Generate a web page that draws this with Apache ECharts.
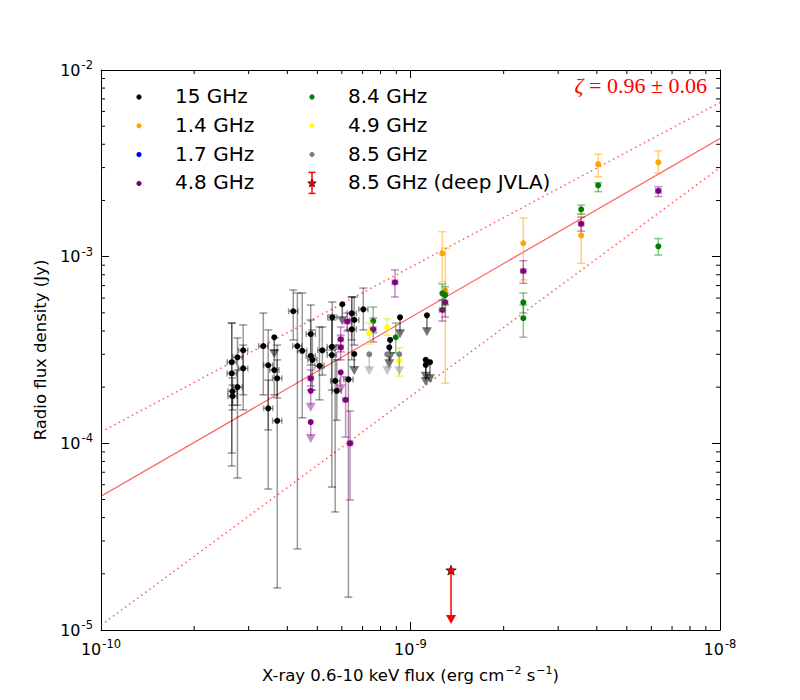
<!DOCTYPE html>
<html><head><meta charset="utf-8">
<script src="https://cdn.jsdelivr.net/npm/echarts@6/dist/echarts.min.js"></script>
<style>html,body{margin:0;padding:0;background:#fff}#c{width:800px;height:700px}</style>
</head><body><div id="c"></div>
<script>
// ---------- data ----------
// detections: [x flux, radio flux, lower error end, upper error end]
const ghz15 = [
  [2.645e-10, 2.72e-4, 8.87e-5, 4.41e-4],
  [2.645e-10, 2.37e-4, 7.56e-5, 4.41e-4],
  [2.76e-10, 2.89e-4, 6.52e-5, 3.67e-4],
  [2.88e-10, 3.15e-4, 1.51e-4, 4.31e-4],
  [2.88e-10, 2.52e-4, 1.82e-4, 3.36e-4],
  [2.76e-10, 2.00e-4, 1.60e-4, 2.47e-4],
  [2.66e-10, 1.90e-4, 1.60e-4, 2.24e-4],
  [2.66e-10, 1.79e-4, 1.51e-4, 2.05e-4],
  [3.345e-10, 3.32e-4, 1.82e-4, 4.99e-4],
  [3.47e-10, 2.62e-4, 5.69e-5, 4.05e-4],
  [3.63e-10, 2.47e-4, 1.82e-4, 3.16e-4],
  [3.71e-10, 2.23e-4, 1.75e-4, 2.80e-4],
  [3.47e-10, 1.54e-4, 1.18e-4, 2.18e-4],
  [3.71e-10, 1.32e-4, 1.68e-5, 3.36e-4],
  [4.18e-10, 5.10e-4, 3.58e-4, 6.63e-4],
  [4.31e-10, 3.32e-4, 2.72e-5, 6.39e-4],
  [4.47e-10, 3.13e-4, 1.37e-4, 6.39e-4],
  [4.76e-10, 3.85e-4, 2.63e-4, 5.51e-4],
  [4.76e-10, 2.94e-4, 1.93e-4, 4.58e-4],
  [4.82e-10, 2.80e-4, 1.93e-4, 4.05e-4],
  [5.08e-10, 2.60e-4, 1.71e-4, 4.20e-4],
  [5.19e-10, 3.15e-4, 2.32e-4, 4.20e-4],
  [5.59e-10, 4.73e-4, 3.16e-4, 5.72e-4],
  [5.57e-10, 3.29e-4, 5.83e-5, 4.87e-4],
  [5.57e-10, 2.97e-4, 1.93e-4, 4.58e-4],
  [5.71e-10, 2.16e-4, 4.29e-5, 3.36e-4],
  [5.78e-10, 1.91e-4, 1.33e-4, 2.80e-4],
  [6.46e-10, 4.97e-4, 3.58e-4, 6.08e-4],
  [6.58e-10, 4.58e-4, 3.36e-4, 6.08e-4],
  [6.46e-10, 4.08e-4, 2.80e-4, 6.08e-4],
  [6.30e-10, 2.20e-4, 1.50e-5, 4.05e-4],
  [7.04e-10, 5.22e-4, 4.05e-4, 6.79e-4]
];
// upper limits: [x flux, radio flux limit]
const ghz15UL = [
  [3.63e-10, 3.70e-4], [6.02e-10, 5.56e-4], [6.58e-10, 3.01e-4],
  [8.59e-10, 3.58e-4], [8.54e-10, 3.27e-4], [9.25e-10, 4.73e-4],
  [1.13e-9, 4.85e-4], [1.12e-9, 2.80e-4], [1.12e-9, 2.63e-4], [1.156e-9, 2.72e-4]
];
const ghz14 = [
  [1.267e-9, 1.04e-3, 7.34e-4, 1.36e-3],
  [1.296e-9, 6.57e-4, 2.10e-4, 1.11e-3],
  [2.315e-9, 1.18e-3, 7.50e-4, 1.61e-3],
  [3.56e-9, 1.30e-3, 9.21e-4, 1.69e-3],
  [4.04e-9, 3.13e-3, 2.68e-3, 3.54e-3],
  [6.32e-9, 3.20e-3, 2.80e-3, 3.69e-3]
];
const ghz17 = [];
const ghz48 = [
  [4.76e-10, 2.23e-4, 2.03e-4, 2.47e-4],
  [5.95e-10, 3.61e-4, 3.09e-4, 4.20e-4],
  [5.95e-10, 3.27e-4, 2.80e-4, 3.80e-4],
  [6.25e-10, 4.49e-4, 4.00e-4, 4.99e-4],
  [6.17e-10, 1.71e-4, 1.08e-4, 2.27e-4],
  [6.38e-10, 1.00e-4, 4.97e-5, 1.49e-4],
  [7.58e-10, 4.08e-4, 3.49e-4, 4.69e-4],
  [8.91e-10, 7.29e-4, 6.08e-4, 8.49e-4],
  [1.267e-9, 5.18e-4, 4.52e-4, 5.86e-4],
  [1.293e-9, 5.69e-4, 4.75e-4, 6.39e-4],
  [2.315e-9, 8.38e-4, 7.20e-4, 9.51e-4],
  [3.56e-9, 1.50e-3, 1.37e-3, 1.63e-3],
  [6.32e-9, 2.25e-3, 2.10e-3, 2.37e-3]
];
const ghz48UL = [[4.76e-10, 1.91e-4], [4.76e-10, 1.30e-4], [5.95e-10, 2.40e-4]];
const ghz84 = [
  [7.58e-10, 4.52e-4, 3.90e-4, 5.37e-4],
  [8.96e-10, 3.70e-4, 3.05e-4, 4.41e-4],
  [1.267e-9, 6.36e-4, 5.18e-4, 7.14e-4],
  [1.293e-9, 6.23e-4, 5.51e-4, 6.91e-4],
  [2.315e-9, 5.69e-4, 4.99e-4, 6.39e-4],
  [2.315e-9, 4.68e-4, 3.70e-4, 5.51e-4],
  [3.56e-9, 1.79e-3, 1.69e-3, 1.89e-3],
  [4.04e-9, 2.41e-3, 2.23e-3, 2.49e-3],
  [6.32e-9, 1.136e-3, 1.02e-3, 1.25e-3]
];
const ghz49 = [
  [7.36e-10, 3.89e-4, 3.40e-4, 4.41e-4],
  [8.41e-10, 4.18e-4, 3.80e-4, 4.64e-4],
  [9.20e-10, 2.77e-4, 2.29e-4, 3.25e-4]
];
const ghz85UL = [[7.36e-10, 3.0e-4], [8.41e-10, 3.0e-4], [9.20e-10, 3.0e-4]];
// deep JVLA: [x flux, limit, arrow end]
const jvla = [[1.352e-9, 2.08e-5, 1.09e-5]];
// fit: best fit and +-1 sigma slopes (end points)
const fitLine = [[1e-10, 5.2e-5], [1e-8, 4.3e-3]];
const fitUpper = [[1e-10, 1.15e-4], [1e-8, 6.7e-3]];
const fitLower = [[1e-10, 1.06e-5], [1e-8, 3.0e-3]];
const xErrFactor15 = 1.035;
const legendLabels = ['15 GHz', '1.4 GHz', '1.7 GHz', '4.8 GHz', '8.4 GHz', '4.9 GHz', '8.5 GHz', '8.5 GHz (deep JVLA)'];
const legendColors = ['#000000', '#FFA500', '#0000FF', '#800080', '#008000', '#FFFF00', '#808080', '#FF0000'];
const xDecades = [-10, -9];
const yDecades = [-5, -4, -3];
const minorMult = [2, 3, 4, 5, 6, 7, 8, 9];
const zetaText = '0.96 ± 0.06';

// ---------- rendering ----------
const FONT = 'DejaVu Sans';
function detSeries(data, color, barColor, xerr) {
  return {
    type: 'custom', coordinateSystem: 'cartesian2d', animation: false, silent: true,
    encode: { x: 0, y: 1 },
    data: data,
    renderItem: function (params, api) {
      const x = api.value(0), y = api.value(1), lo = api.value(2), hi = api.value(3);
      const p = api.coord([x, y]);
      const t = api.coord([x, hi])[1], b = api.coord([x, lo])[1];
      const bs = { stroke: barColor, lineWidth: 1.5 };
      const ch = [
        { type: 'line', shape: { x1: p[0], y1: t, x2: p[0], y2: b }, style: bs },
        { type: 'line', shape: { x1: p[0] - 4, y1: t, x2: p[0] + 4, y2: t }, style: bs },
        { type: 'line', shape: { x1: p[0] - 4, y1: b, x2: p[0] + 4, y2: b }, style: bs }
      ];
      if (xerr) {
        const l = api.coord([x / xerr, y])[0], r = api.coord([x * xerr, y])[0];
        ch.push({ type: 'line', shape: { x1: l, y1: p[1], x2: r, y2: p[1] }, style: bs });
        ch.push({ type: 'line', shape: { x1: l, y1: p[1] - 3, x2: l, y2: p[1] + 3 }, style: bs });
        ch.push({ type: 'line', shape: { x1: r, y1: p[1] - 3, x2: r, y2: p[1] + 3 }, style: bs });
      }
      ch.push({ type: 'circle', shape: { cx: p[0], cy: p[1], r: 3 }, style: { fill: color } });
      return { type: 'group', children: ch };
    }
  };
}
function ulSeries(data, color, arrowColor) {
  return {
    type: 'custom', coordinateSystem: 'cartesian2d', animation: false, silent: true,
    encode: { x: 0, y: 1 },
    data: data,
    renderItem: function (params, api) {
      const p = api.coord([api.value(0), api.value(1)]);
      const yb = p[1] + 20;
      const as = { stroke: arrowColor, lineWidth: 1.5 };
      return { type: 'group', children: [
        { type: 'line', shape: { x1: p[0], y1: p[1], x2: p[0], y2: yb - 6 }, style: as },
        { type: 'polygon', shape: { points: [[p[0] - 5, yb - 8], [p[0] + 5, yb - 8], [p[0], yb + 1]] }, style: { fill: arrowColor } },
        { type: 'circle', shape: { cx: p[0], cy: p[1], r: 3 }, style: { fill: color } }
      ] };
    }
  };
}
function starPoints(cx, cy, R, r) {
  const pts = [];
  for (let i = 0; i < 10; i++) {
    const a = -Math.PI / 2 + i * Math.PI / 5;
    const rr = i % 2 ? r : R;
    pts.push([cx + rr * Math.cos(a), cy + rr * Math.sin(a)]);
  }
  return pts;
}
const jvlaSeries = {
  type: 'custom', coordinateSystem: 'cartesian2d', animation: false, silent: true,
  encode: { x: 0, y: 1 }, data: jvla, z: 5,
  renderItem: function (params, api) {
    const p = api.coord([api.value(0), api.value(1)]);
    const e = api.coord([api.value(0), api.value(2)])[1];
    return { type: 'group', children: [
      { type: 'line', shape: { x1: p[0], y1: p[1], x2: p[0], y2: e - 6 }, style: { stroke: '#ff0000', lineWidth: 1.5 } },
      { type: 'polygon', shape: { points: [[p[0] - 5, e - 8], [p[0] + 5, e - 8], [p[0], e + 1]] }, style: { fill: '#ff0000' } },
      { type: 'polygon', shape: { points: starPoints(p[0], p[1], 5.5, 2.3) }, style: { fill: '#ff0000', stroke: '#000', lineWidth: 0.6 } }
    ] };
  }
};
// minor ticks (decoration)
const minorData = [];
xDecades.forEach(d => minorMult.forEach(m => minorData.push([m * Math.pow(10, d), 1e-3, 0])));
yDecades.forEach(d => minorMult.forEach(m => minorData.push([1e-9, m * Math.pow(10, d), 1])));
const minorSeries = {
  type: 'custom', coordinateSystem: 'cartesian2d', animation: false, silent: true,
  encode: { x: 0, y: 1 }, data: minorData, z: 10,
  renderItem: function (params, api) {
    const cs = params.coordSys;
    const p = api.coord([api.value(0), api.value(1)]);
    const st = { stroke: '#000', lineWidth: 1 };
    if (api.value(2) === 0) {
      return { type: 'group', children: [
        { type: 'line', shape: { x1: p[0], y1: cs.y + cs.height, x2: p[0], y2: cs.y + cs.height - 4 }, style: st },
        { type: 'line', shape: { x1: p[0], y1: cs.y, x2: p[0], y2: cs.y + 4 }, style: st }
      ] };
    }
    return { type: 'group', children: [
      { type: 'line', shape: { x1: cs.x, y1: p[1], x2: cs.x + 4, y2: p[1] }, style: st },
      { type: 'line', shape: { x1: cs.x + cs.width, y1: p[1], x2: cs.x + cs.width - 4, y2: p[1] }, style: st }
    ] };
  }
};
function fitSeries(data, dotted) {
  return {
    type: 'line', data: data, symbol: 'none', animation: false, silent: true, z: 1,
    lineStyle: { color: 'rgba(255,0,0,' + (dotted ? '0.65' : '0.65') + ')', width: dotted ? 1.5 : 1.2, type: dotted ? [1.5, 3.5] : 'solid' }
  };
}
function expLabel(v) {
  const e = Math.round(Math.log10(v));
  return '{b|10}{s|' + e + '}';
}
const tickRich = { b: { fontSize: 16, fontFamily: FONT, color: '#000', lineHeight: 22 }, s: { fontSize: 11.5, fontFamily: FONT, color: '#000', verticalAlign: 'top', lineHeight: 22, padding: [0, 0, 6, 1] } };
const baseAxis = {
  type: 'log', logBase: 10,
  axisLine: { show: true, onZero: false, lineStyle: { color: '#000', width: 1 } },
  axisTick: { show: true, inside: true, length: 8, lineStyle: { color: '#000', width: 1 } },
  splitLine: { show: false }
};
const legendGraphics = [];
legendLabels.forEach((lab, i) => {
  const col = i < 4 ? 0 : 1;
  const row = i % 4;
  const mx = col ? 312 : 139, tx = col ? 348 : 175, my = 97 + row * 28.8;
  if (i === 7) {
    legendGraphics.push({ type: 'line', shape: { x1: mx, y1: my - 11, x2: mx, y2: my + 10 }, style: { stroke: '#ff0000', lineWidth: 1.5 } });
    legendGraphics.push({ type: 'line', shape: { x1: mx - 3.5, y1: my - 11, x2: mx + 3.5, y2: my - 11 }, style: { stroke: '#ff0000', lineWidth: 1.5 } });
    legendGraphics.push({ type: 'line', shape: { x1: mx - 3.5, y1: my + 10, x2: mx + 3.5, y2: my + 10 }, style: { stroke: '#ff0000', lineWidth: 1.5 } });
    legendGraphics.push({ type: 'polygon', shape: { points: starPoints(mx, my, 4.5, 2) }, style: { fill: '#ff0000', stroke: '#000', lineWidth: 0.6 } });
  } else {
    legendGraphics.push({ type: 'circle', shape: { cx: mx, cy: my, r: 2.6 }, style: { fill: legendColors[i] } });
  }
  legendGraphics.push({ type: 'text', x: tx, y: my - 1, style: { text: lab, fontSize: 20, fontFamily: FONT, fill: '#000', verticalAlign: 'middle', align: 'left' } });
});
legendGraphics.push({ type: 'text', right: 93, top: 74, style: { text: '{i|ζ}{n| = ' + zetaText + '}', rich: { i: { fontSize: 22, fontFamily: 'Liberation Serif', fontStyle: 'italic', fill: '#ff0000' }, n: { fontSize: 22, fontFamily: 'Liberation Serif', fill: '#ff0000' } } } });

const chart = echarts.init(document.getElementById('c'), null, { renderer: 'svg' });
chart.setOption({
  backgroundColor: '#fff',
  animation: false,
  grid: { left: 101, right: 80, top: 70, bottom: 70, containLabel: false },
  xAxis: [
    Object.assign({}, baseAxis, {
      min: 1e-10, max: 1e-8, position: 'bottom',
      axisLabel: { show: true, margin: 8, formatter: expLabel, rich: tickRich },
      name: '{a|X-ray 0.6-10 keV flux (erg cm}{s|−2}{a| s}{s|−1}{a|)}',
      nameLocation: 'middle', nameGap: 35,
      nameTextStyle: { rich: { a: { fontSize: 16.5, fontFamily: FONT, color: '#000', lineHeight: 20 }, s: { fontSize: 11, fontFamily: FONT, color: '#000', verticalAlign: 'top', lineHeight: 20, padding: [0, 0, 5, 1] } } }
    }),
    Object.assign({}, baseAxis, { min: 1e-10, max: 1e-8, position: 'top', axisLabel: { show: false } })
  ],
  yAxis: [
    Object.assign({}, baseAxis, {
      min: 1e-5, max: 1e-2, position: 'left',
      axisLabel: { show: true, margin: 8, formatter: expLabel, rich: tickRich },
      name: 'Radio flux density (Jy)', nameLocation: 'middle', nameGap: 48,
      nameTextStyle: { fontSize: 16.5, fontFamily: FONT, color: '#000' }
    }),
    Object.assign({}, baseAxis, { min: 1e-5, max: 1e-2, position: 'right', axisLabel: { show: false } })
  ],
  graphic: legendGraphics,
  series: [
    fitSeries(fitLine, false),
    fitSeries(fitUpper, true),
    fitSeries(fitLower, true),
    detSeries(ghz15, '#000000', 'rgba(0,0,0,0.4)', xErrFactor15),
    ulSeries(ghz15UL, '#000000', 'rgba(0,0,0,0.55)'),
    detSeries(ghz14, '#FFA500', 'rgba(255,165,0,0.5)', 0),
    detSeries(ghz17, '#0000FF', 'rgba(0,0,255,0.5)', 0),
    detSeries(ghz48, '#800080', 'rgba(128,0,128,0.45)', 1.02),
    ulSeries(ghz48UL, '#800080', 'rgba(128,0,128,0.45)'),
    detSeries(ghz84, '#008000', 'rgba(0,128,0,0.45)', 0),
    detSeries(ghz49, '#FFFF00', 'rgba(230,230,0,0.55)', 0),
    ulSeries(ghz85UL, '#808080', 'rgba(128,128,128,0.45)'),
    jvlaSeries,
    minorSeries
  ]
});
</script></body></html>
